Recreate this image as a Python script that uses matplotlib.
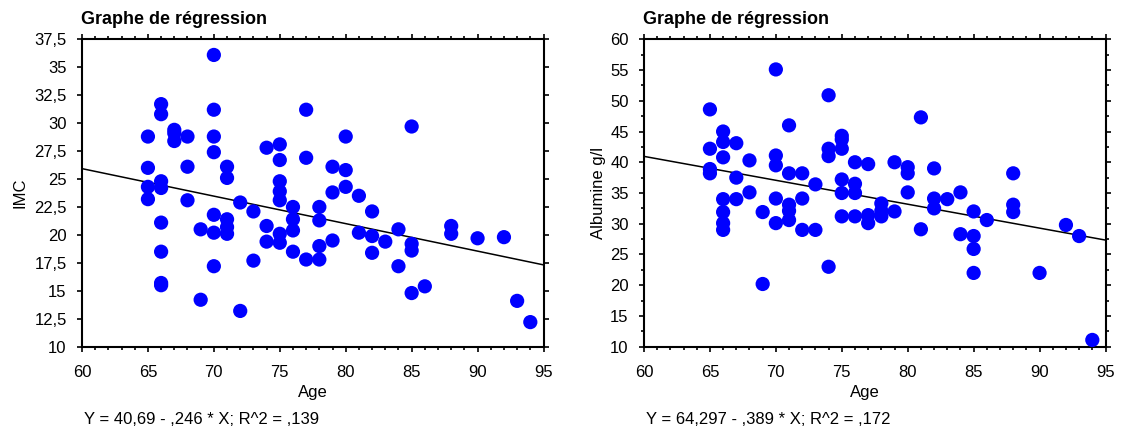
import matplotlib
matplotlib.use("Agg")
import matplotlib.pyplot as plt
import numpy as np
from matplotlib.ticker import MultipleLocator, FuncFormatter

plt.rcParams['font.family'] = ['Liberation Sans', 'DejaVu Sans']

# ---- Data: IMC vs Age ----
age_imc = [65, 65, 65, 65,
           66, 66, 66, 66, 66, 66, 66, 66,
           67, 67, 67,
           68, 68, 68,
           69, 69,
           70, 70, 70, 70, 70, 70, 70,
           71, 71, 71, 71, 71,
           72, 72,
           73, 73,
           74, 74, 74,
           75, 75, 75, 75, 75, 75, 75,
           76, 76, 76, 76,
           77, 77, 77,
           78, 78, 78, 78,
           79, 79, 79,
           80, 80, 80,
           81, 81,
           82, 82, 82,
           83,
           84, 84,
           85, 85, 85, 85,
           86,
           88, 88,
           90, 92, 93, 94]
imc = [28.8, 26.0, 24.3, 23.2,
       31.7, 30.8, 24.8, 24.2, 21.1, 18.5, 15.7, 15.5,
       29.4, 29.1, 28.4,
       28.8, 26.1, 23.1,
       20.5, 14.2,
       36.1, 31.2, 28.8, 27.4, 21.8, 20.2, 17.2,
       26.1, 25.1, 21.4, 20.7, 20.1,
       22.9, 13.2,
       22.1, 17.7,
       27.8, 20.8, 19.4,
       28.1, 26.7, 24.8, 23.9, 23.1, 20.1, 19.3,
       22.5, 21.4, 20.4, 18.5,
       31.2, 26.9, 17.8,
       22.5, 21.3, 19.0, 17.8,
       26.1, 23.8, 19.5,
       28.8, 25.8, 24.3,
       23.5, 20.2,
       22.1, 19.9, 18.4,
       19.4,
       20.5, 17.2,
       29.7, 19.2, 18.6, 14.8,
       15.4,
       20.8, 20.1,
       19.7, 19.8, 14.1, 12.2]

# ---- Data: Albumine vs Age ----
age_alb = [65, 65, 65, 65,
           66, 66, 66, 66, 66, 66, 66,
           67, 67, 67,
           68, 68,
           69, 69,
           70, 70, 70, 70, 70,
           71, 71, 71, 71, 71,
           72, 72, 72,
           73, 73,
           74, 74, 74, 74,
           75, 75, 75, 75, 75, 75,
           76, 76, 76, 76,
           77, 77, 77,
           78, 78, 78,
           79, 79,
           80, 80, 80,
           81, 81,
           82, 82, 82,
           83,
           84, 84,
           85, 85, 85, 85,
           86,
           88, 88, 88,
           90, 92, 93, 94]
alb = [48.6, 42.2, 38.9, 38.2,
       45.0, 43.3, 40.8, 34.0, 31.9, 30.1, 29.0,
       43.1, 37.5, 34.0,
       40.3, 35.1,
       31.9, 20.2,
       55.1, 41.1, 39.5, 34.1, 30.1,
       46.0, 38.2, 33.1, 32.1, 30.6,
       38.2, 34.1, 29.0,
       36.4, 29.0,
       50.9, 42.2, 41.0, 23.0,
       44.3, 43.7, 42.2, 37.2, 35.0, 31.2,
       40.0, 36.5, 35.0, 31.2,
       39.7, 31.4, 30.1,
       33.3, 32.1, 31.2,
       40.0, 32.0,
       39.2, 38.2, 35.1,
       47.3, 29.1,
       39.0, 34.1, 32.5,
       34.0,
       35.1, 28.3,
       32.0, 28.0, 25.9, 22.0,
       30.6,
       38.2, 33.1, 31.9,
       22.0, 29.8, 28.0, 11.1]

# Regression results (as printed)
imc_intercept, imc_slope, imc_r2 = 40.69, -0.246, 0.139
alb_intercept, alb_slope, alb_r2 = 64.297, -0.389, 0.172
imc_eq = "Y = 40,69 - ,246 * X; R^2 = ,139"
alb_eq = "Y = 64,297 - ,389 * X; R^2 = ,172"


def fmt(v, pos):
    return ("%g" % round(v, 2)).replace(".", ",")


W, H = 1122, 433
fig = plt.figure(figsize=(W / 100, H / 100), dpi=100)

panels = [
    dict(x0=82, ages=age_imc, vals=imc, a=imc_intercept, b=imc_slope,
         ylim=(10, 37.5), ymaj=2.5, ymin=None, ylabel="IMC", eq=imc_eq,
         ylab_x=20, age_x=313),
    dict(x0=644, ages=age_alb, vals=alb, a=alb_intercept, b=alb_slope,
         ylim=(10, 60), ymaj=5, ymin=2.5, ylabel="Albumine g/l", eq=alb_eq,
         ylab_x=598, age_x=865),
]

FS = 12
top, bot = 39.3, 346.7
for p in panels:
    ax = fig.add_axes([p['x0'] / W, (H - bot) / H, 461.5 / W, (bot - top) / H])
    ax.scatter(p['ages'], p['vals'], s=105, color='#0000ff', edgecolors='none', zorder=3)
    xs = np.array([60, 95])
    ax.plot(xs, p['a'] + p['b'] * xs, color='black', lw=1.1, zorder=2)
    ax.set_xlim(60, 95)
    ax.set_ylim(*p['ylim'])
    ax.xaxis.set_major_locator(MultipleLocator(5))
    ax.xaxis.set_minor_locator(MultipleLocator(1))
    ax.yaxis.set_major_locator(MultipleLocator(p['ymaj']))
    if p['ymin']:
        ax.yaxis.set_minor_locator(MultipleLocator(p['ymin']))
    ax.yaxis.set_major_formatter(FuncFormatter(fmt))
    ax.xaxis.set_major_formatter(FuncFormatter(fmt))
    for s in ax.spines.values():
        s.set_linewidth(1.5)
    ax.tick_params(which='both', direction='out', top=True, right=True,
                   width=1.2, labelsize=FS, colors='black')
    ax.tick_params(which='major', length=3.5)
    ax.tick_params(which='minor', length=2.2)
    ax.tick_params(axis='x', which='major', pad=10)
    ax.tick_params(axis='y', which='major', pad=7.5)
    fig.text(p['age_x'] / W, 1 - 393 / H, "Age", ha='center', va='center', fontsize=FS)
    fig.text(p['ylab_x'] / W, 1 - 193 / H, p['ylabel'], ha='center', va='center',
             rotation=90, fontsize=FS)
    fig.text((p['x0'] - 1) / W, 1 - 20 / H, "Graphe de régression", ha='left', va='center',
             fontsize=13, fontweight='bold')
    fig.text((p['x0'] + 2) / W, 1 - 419 / H, p['eq'], ha='left', va='center', fontsize=FS)

fig.savefig("out.png", dpi=100)
